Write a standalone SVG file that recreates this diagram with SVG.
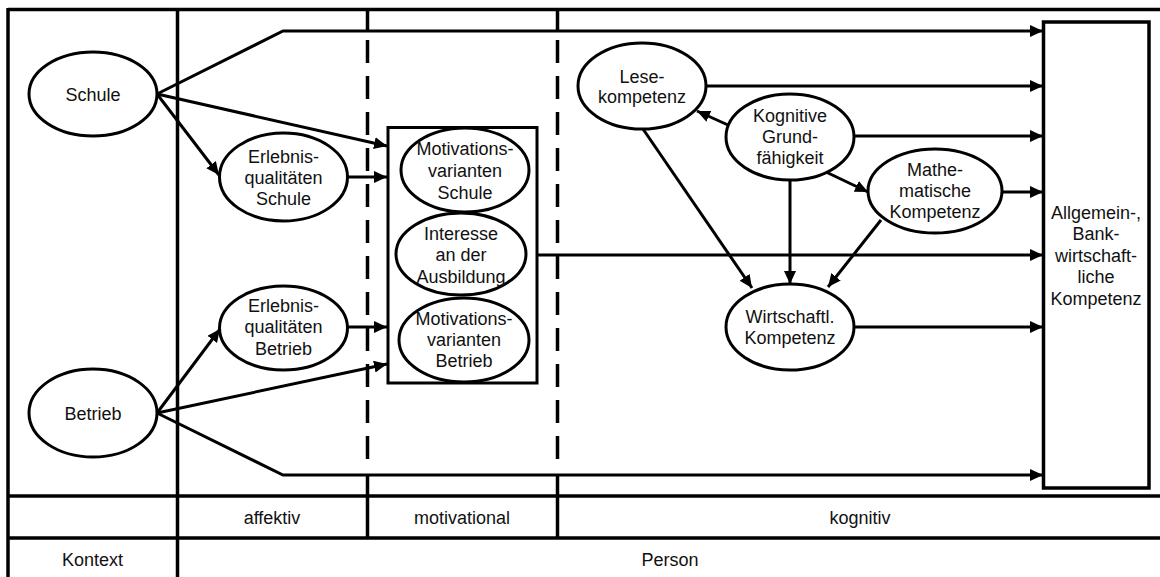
<svg xmlns="http://www.w3.org/2000/svg" width="1160" height="577" viewBox="0 0 1160 577">
<style>
.frame{stroke:#000;stroke-width:3.5;fill:none}
.dash{stroke:#000;stroke-width:3.5;fill:none;stroke-dasharray:23 13}
.node ellipse{fill:#fff;stroke:#000;stroke-width:3}
.box{fill:none;stroke:#000;stroke-width:3}
.big{fill:#fff;stroke:#000;stroke-width:3.5}
text{font-family:"Liberation Sans",Arial,sans-serif;font-size:18px;fill:#111;text-anchor:middle}
.conn line,.conn polyline{stroke:#000;stroke-width:3;fill:none;marker-end:url(#ah)}
</style>
<defs>
<marker id="ah" markerUnits="userSpaceOnUse" markerWidth="14" markerHeight="13" refX="13" refY="6" orient="auto">
<path d="M0,0 L13,6 L0,12 Z" fill="#000"/>
</marker>
</defs>
<rect width="1160" height="577" fill="#fff"/>
<g id="frame">
<line class="frame" x1="8" y1="9.5" x2="1160" y2="9.5"/>
<line class="frame" x1="8" y1="8" x2="8" y2="577"/>
<line class="frame" x1="177.5" y1="8" x2="177.5" y2="577"/>
<line class="frame" x1="8" y1="496" x2="1160" y2="496"/>
<line class="frame" x1="8" y1="538" x2="1160" y2="538"/>
<line class="frame" x1="367.5" y1="9" x2="367.5" y2="30"/>
<line class="dash" x1="367.5" y1="40" x2="367.5" y2="470"/>
<line class="frame" x1="367.5" y1="474" x2="367.5" y2="538"/>
<line class="frame" x1="557.5" y1="9" x2="557.5" y2="30"/>
<line class="dash" x1="557.5" y1="40" x2="557.5" y2="470"/>
<line class="frame" x1="557.5" y1="474" x2="557.5" y2="538"/>
<text x="272" y="523.5">affektiv</text>
<text x="462" y="523.5">motivational</text>
<text x="860" y="523.5">kognitiv</text>
<text x="92.5" y="565.5">Kontext</text>
<text x="670" y="565.5">Person</text>
</g>
<g id="connectors" class="conn">
<polyline points="157,94 283,31 1043,31"/>
<line x1="157" y1="94" x2="387" y2="146"/>
<line x1="157" y1="94" x2="219" y2="175"/>
<line x1="348" y1="177" x2="387" y2="177"/>
<polyline points="157,413 283,475 1043,475"/>
<line x1="157" y1="413" x2="387" y2="364"/>
<line x1="157" y1="413" x2="220" y2="329"/>
<line x1="348" y1="327" x2="387" y2="327"/>
<line x1="538" y1="255" x2="1043" y2="255"/>
<line x1="706" y1="86" x2="1043" y2="86"/>
<line x1="728" y1="125" x2="697" y2="111"/>
<line x1="854" y1="136" x2="1043" y2="136"/>
<line x1="826" y1="172" x2="868" y2="192"/>
<line x1="1002" y1="192" x2="1043" y2="192"/>
<line x1="643" y1="129" x2="752" y2="288"/>
<line x1="790" y1="180" x2="790" y2="284"/>
<line x1="881" y1="220" x2="828" y2="287"/>
<line x1="854" y1="327" x2="1043" y2="327"/>
</g>
<g id="motivation-box"><rect class="box" x="388" y="127.5" width="149" height="255.5"/></g>
<g id="schule" class="node"><ellipse cx="93" cy="94" rx="64" ry="42"/><text x="93" y="100.5">Schule</text></g>
<g id="betrieb" class="node"><ellipse cx="93" cy="413" rx="64" ry="44"/><text x="93" y="419.5">Betrieb</text></g>
<g id="erlebnis-schule" class="node"><ellipse cx="283.5" cy="177" rx="64" ry="44"/><text x="283.5" y="163">Erlebnis-</text><text x="283.5" y="184">qualitäten</text><text x="283.5" y="205">Schule</text></g>
<g id="erlebnis-betrieb" class="node"><ellipse cx="283.5" cy="328" rx="64" ry="42"/><text x="283.5" y="311.5">Erlebnis-</text><text x="283.5" y="333">qualitäten</text><text x="283.5" y="354.5">Betrieb</text></g>
<g id="motiv-schule" class="node"><ellipse cx="465" cy="170" rx="64" ry="42"/><text x="465" y="154.5">Motivations-</text><text x="465" y="176.5">varianten</text><text x="465" y="198.5">Schule</text></g>
<g id="interesse" class="node"><ellipse cx="461" cy="254" rx="65" ry="41"/><text x="461" y="239.5">Interesse</text><text x="461" y="261">an der</text><text x="461" y="282.5">Ausbildung</text></g>
<g id="motiv-betrieb" class="node"><ellipse cx="464" cy="340" rx="65" ry="42"/><text x="464" y="325">Motivations-</text><text x="464" y="346">varianten</text><text x="464" y="367">Betrieb</text></g>
<g id="lese" class="node"><ellipse cx="642" cy="86" rx="64" ry="43"/><text x="642" y="82.5">Lese-</text><text x="642" y="102.5">kompetenz</text></g>
<g id="kognitive" class="node"><ellipse cx="790" cy="137" rx="64" ry="43"/><text x="790" y="121.5">Kognitive</text><text x="790" y="142.5">Grund-</text><text x="790" y="163.5">fähigkeit</text></g>
<g id="mathe" class="node"><ellipse cx="935" cy="191" rx="67" ry="42"/><text x="935" y="176">Mathe-</text><text x="935" y="197">matische</text><text x="935" y="218">Kompetenz</text></g>
<g id="wirtschaft" class="node"><ellipse cx="790" cy="327" rx="64" ry="43"/><text x="790" y="322.5">Wirtschaftl.</text><text x="790" y="343.5">Kompetenz</text></g>
<g id="allgemein"><rect class="big" x="1043.5" y="22" width="105.5" height="466"/>
<text x="1096" y="218.5">Allgemein-,</text><text x="1096" y="240">Bank-</text><text x="1096" y="261.5">wirtschaft-</text><text x="1096" y="283">liche</text><text x="1096" y="305">Kompetenz</text></g>
</svg>
